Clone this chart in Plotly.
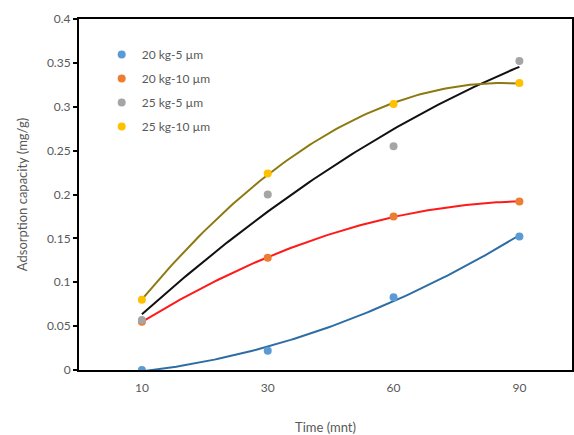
import numpy as np
import plotly.graph_objects as go

times = ["10", "30", "60", "90"]
series_names = ["20 kg-5 µm", "20 kg-10 µm", "25 kg-5 µm", "25 kg-10 µm"]
s1 = [0.0, 0.022, 0.083, 0.152]
s2 = [0.055, 0.128, 0.175, 0.192]
s3 = [0.057, 0.200, 0.255, 0.352]
s4 = [0.080, 0.224, 0.303, 0.327]
y_ticks = [0, 0.05, 0.1, 0.15, 0.2, 0.25, 0.3, 0.35, 0.4]
y_ticktext = ["0", "0.05", "0.1", "0.15", "0.2", "0.25", "0.3", "0.35", "0.4"]

marker_colors = ["#5B9BD5", "#ED7D31", "#A5A5A5", "#FFC000"]
trend_colors = ["#2E6DA4", "#FF1A1A", "#111111", "#8C7A10"]

xidx = np.arange(1, len(times) + 1)
xfine = np.linspace(1, len(times), 100)

fig = go.Figure()
for i, (name, ys) in enumerate(zip(series_names, [s1, s2, s3, s4])):
    coef = np.polyfit(xidx, ys, 2)
    fig.add_trace(go.Scatter(x=xfine, y=np.polyval(coef, xfine), mode="lines",
                             line=dict(color=trend_colors[i], width=2),
                             showlegend=False, hoverinfo="skip"))
for i, (name, ys) in enumerate(zip(series_names, [s1, s2, s3, s4])):
    fig.add_trace(go.Scatter(x=xidx, y=ys, mode="markers", name=name,
                             legendgroup=f"g{i}",
                             marker=dict(color=marker_colors[i], size=8)))

fig.update_layout(
    width=574, height=435,
    margin=dict(l=79, r=0, t=19, b=65),
    plot_bgcolor="white", paper_bgcolor="white",
    font=dict(family="Lato, Open Sans, sans-serif", color="#595959", size=12),
    legend=dict(x=0.046, y=0.94, xanchor="left", yanchor="top",
                bgcolor="rgba(0,0,0,0)", tracegroupgap=5, itemwidth=30,
                font=dict(size=12, color="#595959")),
    xaxis=dict(range=[0.5, 4.418], tickvals=list(xidx), ticktext=times,
               showgrid=False, zeroline=False, showline=True, linecolor="black",
               linewidth=2, mirror=True, ticks="", ticklabelstandoff=6,
               title=dict(text="Time (mnt)", standoff=30, font=dict(size=13)),
               tickfont=dict(size=12)),
    yaxis=dict(range=[0, 0.4], tickvals=y_ticks, ticktext=y_ticktext,
               showgrid=False, zeroline=False, showline=True, linecolor="black",
               linewidth=2, mirror=True, ticks="outside", ticklen=4, tickwidth=2,
               tickcolor="black",
               title=dict(text="Adsorption capacity (mg/g)", standoff=16, font=dict(size=13)),
               tickfont=dict(size=12)),
)
fig.write_html("out.html")
